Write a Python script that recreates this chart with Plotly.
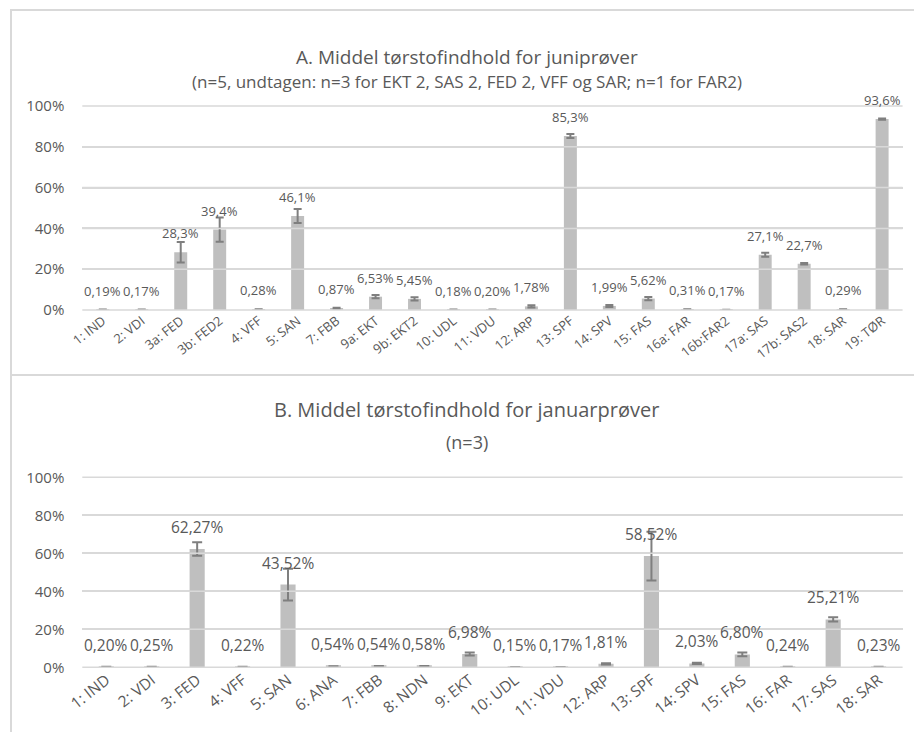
import plotly.graph_objects as go

# --- A: June samples -------------------------------------------------------
cats_a = ["1: IND", "2: VDI", "3a: FED", "3b: FED2", "4: VFF", "5: SAN", "7: FBB",
          "9a: EKT", "9b: EKT2", "10: UDL", "11: VDU", "12: ARP", "13: SPF",
          "14: SPV", "15: FAS", "16a: FAR", "16b:FAR2", "17a: SAS", "17b: SAS2",
          "18: SAR", "19: TØR"]
vals_a = [0.19, 0.17, 28.3, 39.4, 0.28, 46.1, 0.87, 6.53, 5.45, 0.18, 0.20, 1.78,
          85.3, 1.99, 5.62, 0.31, 0.17, 27.1, 22.7, 0.29, 93.6]
labels_a = ["0,19%", "0,17%", "28,3%", "39,4%", "0,28%", "46,1%", "0,87%", "6,53%",
            "5,45%", "0,18%", "0,20%", "1,78%", "85,3%", "1,99%", "5,62%", "0,31%",
            "0,17%", "27,1%", "22,7%", "0,29%", "93,6%"]
err_a = [0.05, 0.05, 5.0, 6.0, 0.05, 3.4, 0.2, 0.8, 0.8, 0.05, 0.05, 0.5,
         1.0, 0.5, 0.8, 0.05, 0.0, 1.0, 0.4, 0.05, 0.3]

# --- B: January samples ----------------------------------------------------
cats_b = ["1: IND", "2: VDI", "3: FED", "4: VFF", "5: SAN", "6: ANA", "7: FBB",
          "8: NDN", "9: EKT", "10: UDL", "11: VDU", "12: ARP", "13: SPF",
          "14: SPV", "15: FAS", "16: FAR", "17: SAS", "18: SAR"]
vals_b = [0.20, 0.25, 62.27, 0.22, 43.52, 0.54, 0.54, 0.58, 6.98, 0.15, 0.17,
          1.81, 58.52, 2.03, 6.80, 0.24, 25.21, 0.23]
labels_b = ["0,20%", "0,25%", "62,27%", "0,22%", "43,52%", "0,54%", "0,54%",
            "0,58%", "6,98%", "0,15%", "0,17%", "1,81%", "58,52%", "2,03%",
            "6,80%", "0,24%", "25,21%", "0,23%"]
err_b = [0.05, 0.05, 3.5, 0.05, 8.4, 0.05, 0.1, 0.1, 0.8, 0.05, 0.05, 0.3,
         12.8, 0.3, 1.0, 0.05, 1.1, 0.05]

y_ticks = [0, 20, 40, 60, 80, 100]
y_tick_text = ["0%", "20%", "40%", "60%", "80%", "100%"]
Y_RANGE = [0, 100]

W, H = 914, 732
FONT = "Open Sans"
TXT = "#595959"
BAR = "#bfbfbf"
ERR = "#7f7f7f"
GRID = "#d9d9d9"


def px(x):
    return x / W


def py(y):
    return 1 - y / H


X_DOM = [px(82.3), px(902.6)]
Y_DOM_A = [py(310), py(106)]
Y_DOM_B = [py(667.3), py(477.3)]

fig = go.Figure()

fig.add_trace(go.Bar(
    x=cats_a, y=vals_a, xaxis="x", yaxis="y", marker_color=BAR,
    marker_line_width=0,
    error_y=dict(type="data", array=err_a, color=ERR, thickness=2, width=4),
    hoverinfo="x+y", showlegend=False,
))
fig.add_trace(go.Bar(
    x=cats_b, y=vals_b, xaxis="x2", yaxis="y2", marker_color=BAR,
    marker_line_width=0,
    error_y=dict(type="data", array=err_b, color=ERR, thickness=2, width=5),
    hoverinfo="x+y", showlegend=False,
))

annotations = []
for c, v, t in zip(cats_a, vals_a, labels_a):
    annotations.append(dict(x=c, y=v, xref="x", yref="y", text=t, showarrow=False,
                            yanchor="bottom", yshift=8,
                            font=dict(family=FONT, size=13, color=TXT)))
for c, v, t in zip(cats_b, vals_b, labels_b):
    annotations.append(dict(x=c, y=v, xref="x2", yref="y2", text=t, showarrow=False,
                            yanchor="bottom", yshift=9,
                            font=dict(family=FONT, size=15.5, color=TXT)))

# chart titles
annotations += [
    dict(x=px(467), y=py(42), xref="paper", yref="paper", showarrow=False,
         text="A. Middel tørstofindhold for juniprøver",
         font=dict(family=FONT, size=19, color=TXT)),
    dict(x=px(467), y=py(68), xref="paper", yref="paper", showarrow=False,
         text="(n=5, undtagen: n=3 for EKT 2, SAS 2, FED 2, VFF og SAR; n=1 for FAR2)",
         font=dict(family=FONT, size=17, color=TXT)),
    dict(x=px(467), y=py(410), xref="paper", yref="paper", showarrow=False,
         text="B. Middel tørstofindhold for januarprøver",
         font=dict(family=FONT, size=20, color=TXT)),
    dict(x=px(467), y=py(442), xref="paper", yref="paper", showarrow=False,
         text="(n=3)",
         font=dict(family=FONT, size=18, color=TXT)),
]

# chart frames
shapes = [
    dict(type="rect", xref="paper", yref="paper", x0=px(11), x1=px(930),
         y0=py(375), y1=py(10), line=dict(color=GRID, width=2),
         fillcolor="rgba(0,0,0,0)"),
    dict(type="rect", xref="paper", yref="paper", x0=px(11), x1=px(930),
         y0=py(750), y1=py(375), line=dict(color=GRID, width=2),
         fillcolor="rgba(0,0,0,0)"),
]

# value gridlines: each y tick mapped through its axis domain
for dom in (Y_DOM_A, Y_DOM_B):
    for v in y_ticks:
        frac = (v - Y_RANGE[0]) / (Y_RANGE[1] - Y_RANGE[0])
        yp = dom[0] + frac * (dom[1] - dom[0])
        shapes.append(dict(type="line", xref="paper", yref="paper",
                           x0=X_DOM[0], x1=X_DOM[1], y0=yp, y1=yp,
                           line=dict(color=GRID, width=1.5)))

x_common = dict(type="category", showgrid=False, showline=False, ticks="",
                zeroline=False, tickangle=-38, automargin=False)
y_common = dict(range=Y_RANGE, tickmode="array", tickvals=y_ticks,
                ticktext=y_tick_text, showgrid=True, gridcolor=GRID,
                gridwidth=1.5, zeroline=False, showline=False,
                ticks="outside", ticklen=14, tickcolor="rgba(0,0,0,0)",
                automargin=False)

fig.update_layout(
    template="none",
    width=W, height=H, margin=dict(l=0, r=0, t=0, b=0, pad=0),
    paper_bgcolor="white", plot_bgcolor="rgba(0,0,0,0)",
    bargap=0.667, showlegend=False,
    font=dict(family=FONT, color=TXT),
    xaxis=dict(x_common, domain=X_DOM, anchor="y",
               categoryorder="array", categoryarray=cats_a,
               tickfont=dict(family=FONT, size=13, color=TXT)),
    yaxis=dict(y_common, domain=Y_DOM_A, anchor="x",
               tickfont=dict(family=FONT, size=15, color=TXT)),
    xaxis2=dict(x_common, domain=X_DOM, anchor="y2",
                categoryorder="array", categoryarray=cats_b,
                tickfont=dict(family=FONT, size=15.5, color=TXT)),
    yaxis2=dict(y_common, domain=Y_DOM_B, anchor="x2",
                tickfont=dict(family=FONT, size=15, color=TXT)),
    annotations=annotations, shapes=shapes,
)

fig.write_html("out.html")
